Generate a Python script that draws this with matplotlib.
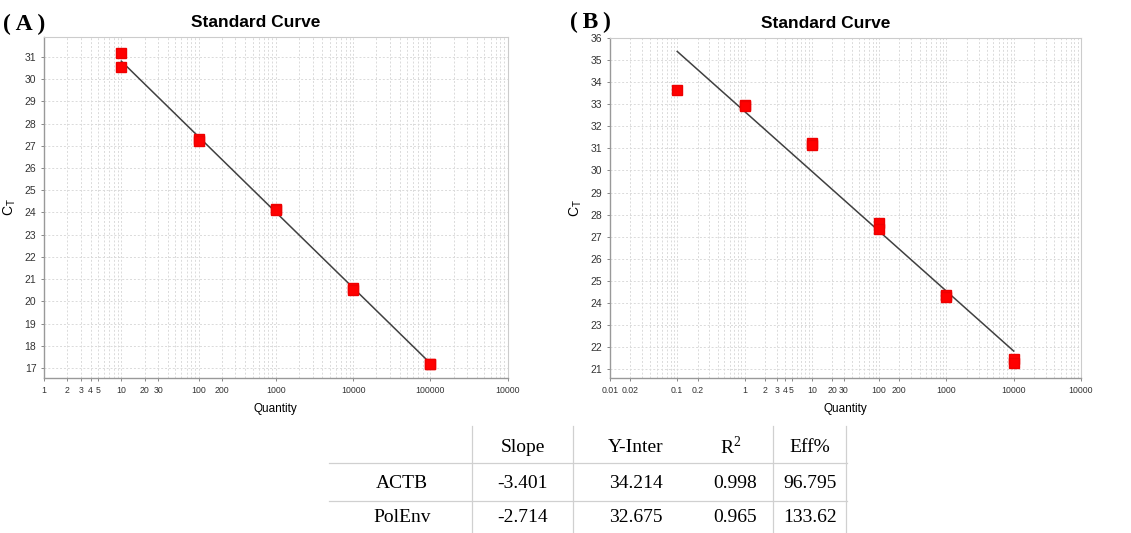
import numpy as np
import matplotlib
matplotlib.use("Agg")
import matplotlib.pyplot as plt
from matplotlib.lines import Line2D
from matplotlib.ticker import FixedLocator, LogLocator, NullFormatter

# Standard curve replicates (quantity, Ct)
ACTB_QTY = [10, 10, 100, 100, 1000, 1000, 10000, 10000, 100000, 100000]
ACTB_CT = [31.2, 30.55, 27.3, 27.2, 24.15, 24.1, 20.6, 20.5, 17.2, 17.2]

POLENV_QTY = [0.1, 1, 1, 10, 10, 100, 100, 1000, 1000, 10000, 10000]
POLENV_CT = [33.65, 32.95, 32.9, 31.25, 31.15, 27.6, 27.35, 24.35, 24.25, 21.45, 21.3]

# Fit summary table
GENES = ["ACTB", "PolEnv"]
SLOPES = ["-3.401", "-2.714"]
INTERCEPTS = ["34.214", "32.675"]
R2 = ["0.998", "0.965"]
EFF = ["96.795", "133.62"]
HEADERS = ["Slope", "Y-Inter", r"R$^{2}$", "Eff%"]

# Tick labels as printed on the instrument plots
A_XTICKS = [1, 2, 3, 4, 5, 10, 20, 30, 100, 200, 1000, 10000, 100000, 1000000]
A_XLABELS = ["1", "2", "3", "4", "5", "10", "20", "30", "100", "200", "1000",
             "10000", "100000", "10000"]
B_XTICKS = [0.01, 0.02, 0.1, 0.2, 1, 2, 3, 4, 5, 10, 20, 30, 100, 200, 1000,
            10000, 100000]
B_XLABELS = ["0.01", "0.02", "0.1", "0.2", "1", "2", "3", "4", "5", "10", "20",
             "30", "100", "200", "1000", "10000", "10000"]

SANS = ["Liberation Sans", "DejaVu Sans"]
SERIF = ["Liberation Serif", "DejaVu Serif"]

plt.rcParams["mathtext.fontset"] = "custom"
plt.rcParams["mathtext.sf"] = "Liberation Sans"
plt.rcParams["mathtext.rm"] = "Liberation Serif"


def draw_curve(ax, qty, ct, slope, inter, xlim, ylim, xticks, xlabels, yticks):
    ax.set_xscale("log")
    ax.set_xlim(*xlim)
    ax.set_ylim(*ylim)

    ax.xaxis.set_major_locator(FixedLocator(xticks))
    ax.set_xticklabels(xlabels, family=SANS, fontsize=6.3, color="#333333")
    ax.xaxis.set_minor_locator(LogLocator(base=10, subs=np.arange(2, 10), numticks=50))
    ax.xaxis.set_minor_formatter(NullFormatter())
    ax.set_yticks(yticks)
    ax.set_yticklabels([str(v) for v in yticks], family=SANS, fontsize=7.5, color="#333333")

    ax.grid(True, which="both", axis="x", color="#dadada", linestyle=(0, (2, 2)), linewidth=0.7)
    ax.grid(True, which="major", axis="y", color="#dadada", linestyle=(0, (2, 2)), linewidth=0.7)
    ax.set_axisbelow(True)

    ax.tick_params(axis="both", which="major", length=2.5, width=0.7, color="#888888", pad=3)
    ax.tick_params(axis="x", which="minor", length=0)
    for side in ["top", "right"]:
        ax.spines[side].set_color("#cccccc")
    for side in ["left", "bottom"]:
        ax.spines[side].set_color("#999999")
        ax.spines[side].set_linewidth(1.0)

    # regression line over the range of standards
    qmin, qmax = min(qty), max(qty)
    xs = np.array([qmin, qmax])
    ax.plot(xs, slope * np.log10(xs) + inter, color="#404040", linewidth=1.1, zorder=2)
    ax.plot(qty, ct, linestyle="none", marker="s", markersize=7.5,
            markerfacecolor="#ff0000", markeredgecolor="#ee0000", zorder=3)

    ax.set_title("Standard Curve", family=SANS, fontsize=12.5, fontweight="bold",
                 x=0.457, pad=7)
    ax.set_xlabel("Quantity", family=SANS, fontsize=8.5, labelpad=6)
    ax.set_ylabel(r"C$_{\mathsf{T}}$", family=SANS, fontsize=10, labelpad=5)


fig = plt.figure(figsize=(11.31, 5.33), dpi=100)

ax_a = fig.add_axes([0.0389, 0.2908, 0.410, 0.6398])
draw_curve(ax_a, ACTB_QTY, ACTB_CT, float(SLOPES[0]), float(INTERCEPTS[0]),
           (1, 1e6), (16.55, 31.9), A_XTICKS, A_XLABELS, list(range(17, 32)))

ax_b = fig.add_axes([0.5393, 0.2908, 0.4165, 0.6380])
draw_curve(ax_b, POLENV_QTY, POLENV_CT, float(SLOPES[1]), float(INTERCEPTS[1]),
           (0.01, 1e5), (20.6, 36.0), B_XTICKS, B_XLABELS, list(range(21, 37)))

fig.text(3 / 1131, 1 - 24 / 533, "(\u2009A\u2009)", family=SERIF, fontsize=17,
         fontweight="bold", ha="left", va="center")
fig.text(570 / 1131, 1 - 22 / 533, "(\u2009B\u2009)", family=SERIF, fontsize=17,
         fontweight="bold", ha="left", va="center")

# summary table drawn in figure pixels
W, H = 1131.0, 533.0


def px(x, y):
    return x / W, 1 - y / H


def hline(y, x0, x1):
    fig.add_artist(Line2D([x0 / W, x1 / W], [1 - y / H, 1 - y / H],
                          color="#d0d0d0", linewidth=0.9))


def vline(x, y0, y1):
    fig.add_artist(Line2D([x / W, x / W], [1 - y0 / H, 1 - y1 / H],
                          color="#d0d0d0", linewidth=0.9))


hline(463, 329, 847)
hline(501, 329, 847)
for xv in [472, 573, 773, 846]:
    vline(xv, 426, 533)

tfs = 14
row_y = [447, 484, 517]
col_cfg = [(523, "center"), (636, "center"), (757, "right"), (810, "center")]

for (cx, ha), head in zip(col_cfg, HEADERS):
    hx = cx if ha == "center" else 731
    fig.text(*px(hx, row_y[0]), head, family=SERIF, fontsize=tfs, ha="center", va="center")

for i, gene in enumerate(GENES):
    y = row_y[i + 1]
    fig.text(*px(402, y), gene, family=SERIF, fontsize=tfs, ha="center", va="center")
    vals = [SLOPES[i], INTERCEPTS[i], R2[i], EFF[i]]
    for (cx, ha), v in zip(col_cfg, vals):
        fig.text(*px(cx, y), v, family=SERIF, fontsize=tfs, ha=ha, va="center")

fig.savefig("out.png", dpi=100)
